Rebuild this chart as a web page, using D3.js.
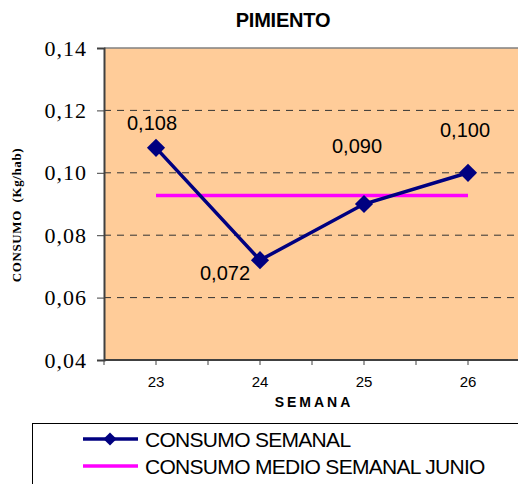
<!DOCTYPE html>
<html>
<head>
<meta charset="utf-8">
<script src="https://cdn.jsdelivr.net/npm/d3@7"></script>
<style>
  html, body { margin: 0; padding: 0; background: #fff; }
  svg { display: block; }
</style>
</head>
<body>
<svg id="chart" width="518" height="484"></svg>
<script>
// Weekly consumption of peppers (kg per inhabitant)
const weeks = ["23", "24", "25", "26"];
const weeklyValues = [0.108, 0.072, 0.090, 0.100];
const juneMean = 0.0927;
const yTicks = [0.04, 0.06, 0.08, 0.10, 0.12, 0.14];
const seriesNames = ["CONSUMO SEMANAL", "CONSUMO MEDIO SEMANAL JUNIO"];

const SERIF = "'Liberation Serif', 'Times New Roman', serif";
const SANS = "'Liberation Sans', Arial, sans-serif";

const svg = d3.select("#chart");
const plot = { left: 104, top: 48, right: 520, bottom: 360 };

const fmt = v => d3.format(".2f")(v).replace(".", ",");
const fmt3 = v => d3.format(".3f")(v).replace(".", ",");

// Category band scale; points sit at the band centres
const x = d3.scaleBand().domain(weeks).range([plot.left, plot.right]).paddingInner(0).paddingOuter(0);
const xc = d => x(d) + x.bandwidth() / 2;
const y = d3.scaleLinear().domain([0.04, 0.14]).range([plot.bottom, plot.top]);

// Title
svg.append("text")
  .attr("x", 283).attr("y", 27)
  .attr("text-anchor", "middle")
  .style("font-family", SANS)
  .style("font-weight", "bold").style("font-size", "20px")
  .style("letter-spacing", "-0.2px")
  .text("PIMIENTO");

// Plot background
svg.append("rect")
  .attr("x", plot.left).attr("y", plot.top)
  .attr("width", plot.right - plot.left).attr("height", plot.bottom - plot.top)
  .attr("fill", "#FFCC99");

// Dashed gridlines
svg.append("g").selectAll("line")
  .data(yTicks.filter(t => t > 0.04 && t < 0.14))
  .join("line")
  .attr("x1", plot.left).attr("x2", plot.right)
  .attr("y1", d => y(d)).attr("y2", d => y(d))
  .attr("stroke", "#333").attr("stroke-width", 1)
  .attr("stroke-dasharray", "7,6");

// Top border of the plot area
svg.append("line")
  .attr("x1", plot.left).attr("x2", plot.right)
  .attr("y1", plot.top).attr("y2", plot.top)
  .attr("stroke", "#808080").attr("stroke-width", 1.5);

// Y axis
const yAxis = svg.append("g")
  .attr("transform", `translate(${plot.left},0)`)
  .call(d3.axisLeft(y).tickValues(yTicks).tickFormat(fmt).tickSize(7).tickPadding(10));
yAxis.attr("font-family", SERIF).attr("font-size", 22);
yAxis.select(".domain").attr("stroke", "#404040").attr("stroke-width", 2);
yAxis.selectAll(".tick line").attr("stroke", "#404040").attr("stroke-width", 1);
yAxis.selectAll(".tick text")
  .style("font-family", SERIF)
  .style("font-size", "22px")
  .style("letter-spacing", "1px")
  .attr("fill", "#000")
  .attr("dy", "0.32em");

// X axis with ticks at band centres and band edges
const xAxis = svg.append("g")
  .attr("transform", `translate(0,${plot.bottom})`);
xAxis.append("line")
  .attr("x1", plot.left).attr("x2", plot.right)
  .attr("stroke", "#404040").attr("stroke-width", 2);
const edgeTicks = weeks.map(d => x(d)).concat(weeks.map(d => xc(d)));
xAxis.selectAll("line.tk").data(edgeTicks).join("line")
  .attr("class", "tk")
  .attr("x1", d => d).attr("x2", d => d)
  .attr("y1", 0).attr("y2", 5)
  .attr("stroke", "#404040").attr("stroke-width", 1);
xAxis.selectAll("text").data(weeks).join("text")
  .attr("x", d => xc(d)).attr("y", 27)
  .attr("text-anchor", "middle")
  .style("font-family", SANS)
  .style("font-size", "15px")
  .text(d => d);

// Axis titles
svg.append("text")
  .attr("x", 314).attr("y", 407)
  .attr("text-anchor", "middle")
  .style("font-family", SANS)
  .style("font-weight", "bold").style("font-size", "14px")
  .style("letter-spacing", "3px")
  .text("SEMANA");

svg.append("text")
  .attr("transform", "translate(21,215) rotate(-90)")
  .attr("text-anchor", "middle")
  .style("font-family", SERIF)
  .style("font-weight", "bold").style("font-size", "13px")
  .style("letter-spacing", "0.6px")
  .style("white-space", "pre")
  .text("CONSUMO  (Kg/hab)");

// June mean reference line
svg.append("line")
  .attr("x1", xc(weeks[0])).attr("x2", xc(weeks[weeks.length - 1]))
  .attr("y1", y(juneMean)).attr("y2", y(juneMean))
  .attr("stroke", "#FF00FF").attr("stroke-width", 3.5);

// Weekly series
const data = weeks.map((w, i) => ({ w, v: weeklyValues[i] }));
svg.append("path")
  .datum(data)
  .attr("fill", "none")
  .attr("stroke", "#000080").attr("stroke-width", 3.5)
  .attr("d", d3.line().x(d => xc(d.w)).y(d => y(d.v)));

const diamond = d3.symbol().type(d3.symbolDiamond2).size(210);
svg.append("g").selectAll("path")
  .data(data).join("path")
  .attr("transform", d => `translate(${xc(d.w)},${y(d.v)})`)
  .attr("d", diamond)
  .attr("fill", "#000080");

// Value labels
const labelOffsets = [
  { dx: -4, dy: -18 },
  { dx: -35, dy: 20 },
  { dx: -7, dy: -51 },
  { dx: -3, dy: -36 }
];
svg.append("g").selectAll("text")
  .data(data).join("text")
  .attr("x", (d, i) => xc(d.w) + labelOffsets[i].dx)
  .attr("y", (d, i) => y(d.v) + labelOffsets[i].dy)
  .attr("text-anchor", "middle")
  .style("font-family", SANS)
  .style("font-size", "20px")
  .text(d => fmt3(d.v));

// Legend
const legend = svg.append("g");
legend.append("rect")
  .attr("x", 32.5).attr("y", 423.5)
  .attr("width", 500).attr("height", 80)
  .attr("fill", "#fff").attr("stroke", "#000").attr("stroke-width", 1);
const legendRows = [
  { name: seriesNames[0], color: "#000080", marker: true, y: 439 },
  { name: seriesNames[1], color: "#FF00FF", marker: false, y: 466 }
];
legendRows.forEach(r => {
  legend.append("line")
    .attr("x1", 83).attr("x2", 138)
    .attr("y1", r.y).attr("y2", r.y)
    .attr("stroke", r.color).attr("stroke-width", 3.5);
  if (r.marker) {
    legend.append("path")
      .attr("transform", `translate(110,${r.y})`)
      .attr("d", d3.symbol().type(d3.symbolDiamond2).size(110))
      .attr("fill", r.color);
  }
  legend.append("text")
    .attr("x", 145).attr("y", r.y + 7.5)
    .style("font-family", SANS)
    .style("font-size", "21px")
    .style("letter-spacing", "-0.7px")
    .text(r.name);
});
</script>
</body>
</html>
